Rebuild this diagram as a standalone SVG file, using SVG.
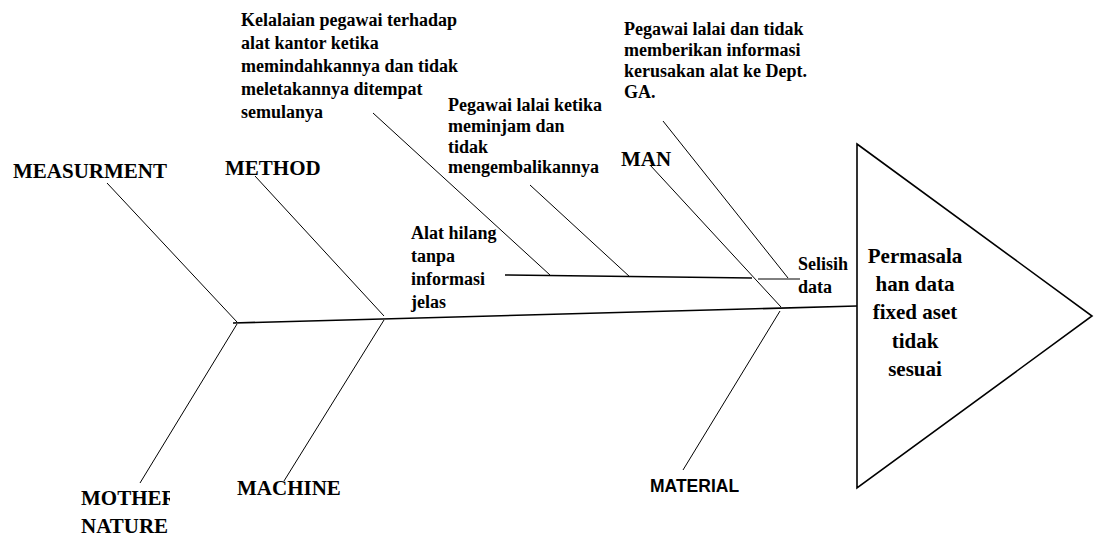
<svg xmlns="http://www.w3.org/2000/svg" width="1095" height="535" viewBox="0 0 1095 535">
<style>
text{font-family:"Liberation Serif","Times New Roman",serif;font-weight:bold;fill:#000}
.big{font-size:21px}
.sm{font-size:18px}
.sans{font-family:"Liberation Sans",Arial,sans-serif;font-size:17.5px}
.ln{stroke:#000;stroke-width:1;fill:none}
.spine{stroke:#000;stroke-width:1.6;fill:none}
.c{text-anchor:middle}
</style>
<defs>
<clipPath id="clipMN"><rect x="0" y="480" width="170" height="55"/></clipPath>
</defs>
<rect width="1095" height="535" fill="#fff"/>
<g id="connectors">
<line class="spine" x1="233" y1="323" x2="857" y2="306"/>
<line class="ln" x1="107" y1="183" x2="237" y2="322"/>
<line class="ln" x1="255" y1="176" x2="384" y2="316"/>
<line class="ln" x1="237" y1="324" x2="140" y2="483"/>
<line class="ln" x1="384" y1="320" x2="284" y2="481"/>
<line class="ln" x1="780" y1="311" x2="683" y2="470"/>
<line class="spine" x1="505" y1="275" x2="752" y2="278"/>
<line class="ln" x1="758" y1="279" x2="800" y2="279"/>
<line class="ln" x1="373" y1="113" x2="550" y2="275"/>
<line class="ln" x1="530" y1="185" x2="630" y2="277"/>
<line class="ln" x1="650" y1="165" x2="781" y2="307"/>
<line class="ln" x1="663" y1="121" x2="788" y2="278"/>
</g>
<g id="head">
<polygon points="857,144 1092,316 857,488" fill="#fff" stroke="#000" stroke-width="1.6"/>
<text class="big c" x="915" y="263">Permasala</text>
<text class="big c" x="915" y="291">han data</text>
<text class="big c" x="915" y="319">fixed aset</text>
<text class="big c" x="915" y="348">tidak</text>
<text class="big c" x="915" y="376">sesuai</text>
</g>
<g id="measurment"><text class="big" x="13" y="178">MEASURMENT</text></g>
<g id="method"><text class="big" x="225" y="175">METHOD</text></g>
<g id="man"><text class="big" x="621" y="166">MAN</text></g>
<g id="mother-nature" clip-path="url(#clipMN)">
<text class="big" x="81" y="505">MOTHER</text>
<text class="big" x="81" y="533">NATURE</text>
</g>
<g id="machine"><text class="big" x="237" y="495">MACHINE</text></g>
<g id="material"><text class="sans" x="650" y="492">MATERIAL</text></g>
<g id="cause-kelalaian">
<text class="sm" x="241" y="26">Kelalaian pegawai terhadap</text>
<text class="sm" x="241" y="49">alat kantor ketika</text>
<text class="sm" x="241" y="72">memindahkannya dan tidak</text>
<text class="sm" x="241" y="95">meletakannya ditempat</text>
<text class="sm" x="241" y="118">semulanya</text>
</g>
<g id="cause-meminjam">
<text class="sm" x="448" y="111">Pegawai lalai ketika</text>
<text class="sm" x="448" y="132">meminjam dan</text>
<text class="sm" x="448" y="153">tidak</text>
<text class="sm" x="448" y="173">mengembalikannya</text>
</g>
<g id="cause-informasi">
<text class="sm" x="624" y="35">Pegawai lalai dan tidak</text>
<text class="sm" x="624" y="56">memberikan informasi</text>
<text class="sm" x="624" y="77">kerusakan alat ke Dept.</text>
<text class="sm" x="624" y="98">GA.</text>
</g>
<g id="cause-alat-hilang">
<text class="sm" x="411" y="239">Alat hilang</text>
<text class="sm" x="411" y="262">tanpa</text>
<text class="sm" x="411" y="285">informasi</text>
<text class="sm" x="411" y="308">jelas</text>
</g>
<g id="selisih">
<text class="sm" x="798" y="270">Selisih</text>
<text class="sm" x="798" y="293">data</text>
</g>
</svg>
